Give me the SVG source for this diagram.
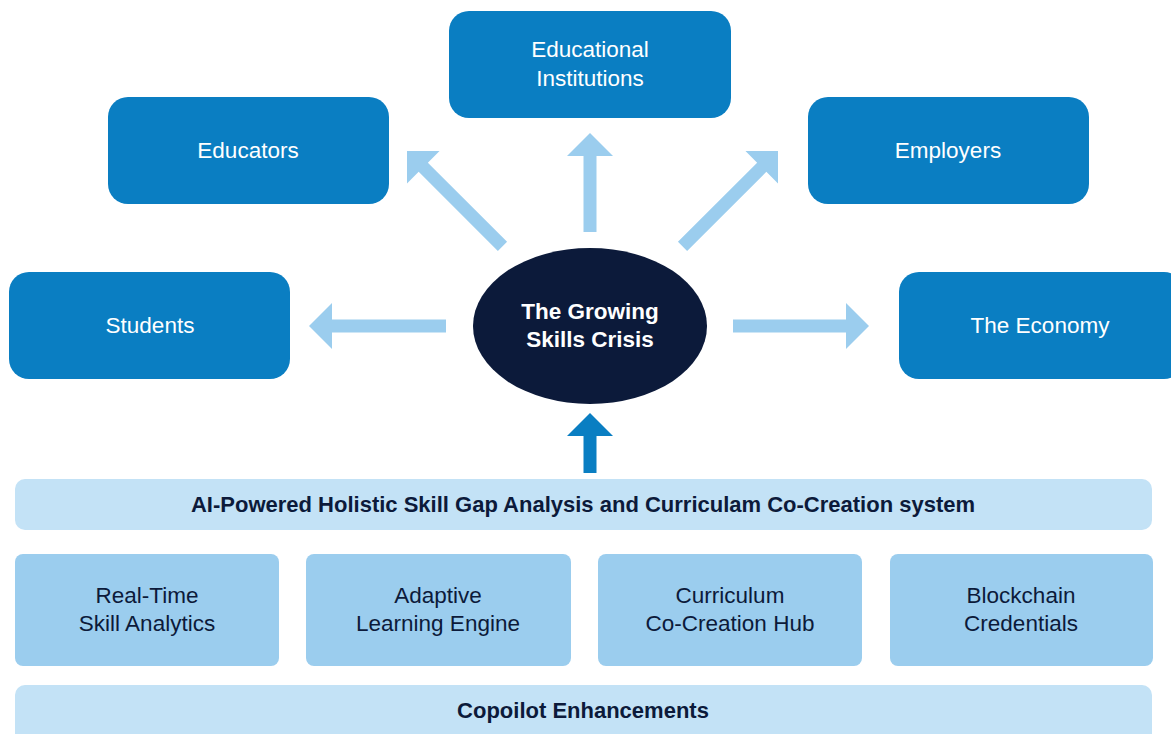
<svg xmlns="http://www.w3.org/2000/svg" width="1171" height="734" viewBox="0 0 1171 734">
<defs>
<style>
.top{fill:#0A7EC2}
.tt{font-family:"Liberation Sans",Arial,sans-serif;font-size:22.5px;fill:#FFFFFF;text-anchor:middle}
.ct{font-family:"Liberation Sans",Arial,sans-serif;font-size:22.5px;font-weight:bold;fill:#FFFFFF;text-anchor:middle}
.bar{fill:#C3E2F6}
.box{fill:#9BCDEE}
.bt{font-family:"Liberation Sans",Arial,sans-serif;font-size:22.5px;fill:#0C1A3A;text-anchor:middle}
.bb{font-family:"Liberation Sans",Arial,sans-serif;font-size:22px;font-weight:bold;fill:#0C1A3A;text-anchor:middle}
.arr{fill:#9BCDEE}
.arrd{fill:#0A7EC2}
</style>
</defs>
<rect width="1171" height="734" fill="#FFFFFF"/>
<g id="connectors">
<path class="arr" d="M0,0 L23,23 L6.5,23 L6.5,99 L-6.5,99 L-6.5,23 L-23,23Z" transform="translate(590,133)"/>
<path class="arr" d="M0,0 L23,23 L6.5,23 L6.5,135 L-6.5,135 L-6.5,23 L-23,23Z" transform="translate(407,151) rotate(-45)"/>
<path class="arr" d="M0,0 L23,23 L6.5,23 L6.5,135 L-6.5,135 L-6.5,23 L-23,23Z" transform="translate(778,151) rotate(45)"/>
<path class="arr" d="M0,0 L23,23 L6.5,23 L6.5,137 L-6.5,137 L-6.5,23 L-23,23Z" transform="translate(309,326) rotate(-90)"/>
<path class="arr" d="M0,0 L23,23 L6.5,23 L6.5,136 L-6.5,136 L-6.5,23 L-23,23Z" transform="translate(869,326) rotate(90)"/>
<path class="arrd" d="M0,0 L23,23 L6.5,23 L6.5,60 L-6.5,60 L-6.5,23 L-23,23Z" transform="translate(590,413)"/>
</g>
<g id="educational-institutions">
<rect class="top" x="449" y="11" width="282" height="107" rx="20"/>
<text class="tt" x="590" y="57">Educational</text>
<text class="tt" x="590" y="86">Institutions</text>
</g>
<g id="educators">
<rect class="top" x="108" y="97" width="281" height="107" rx="20"/>
<text class="tt" x="248" y="158">Educators</text>
</g>
<g id="employers">
<rect class="top" x="808" y="97" width="281" height="107" rx="20"/>
<text class="tt" x="948" y="158">Employers</text>
</g>
<g id="students">
<rect class="top" x="9" y="272" width="281" height="107" rx="20"/>
<text class="tt" x="150" y="333">Students</text>
</g>
<g id="the-economy">
<rect class="top" x="899" y="272" width="285" height="107" rx="20"/>
<text class="tt" x="1040" y="333">The Economy</text>
</g>
<g id="crisis">
<ellipse cx="590" cy="326" rx="117" ry="78" fill="#0C1A3A"/>
<text class="ct" x="590" y="319">The Growing</text>
<text class="ct" x="590" y="347">Skills Crisis</text>
</g>
<g id="system-bar">
<rect class="bar" x="15" y="479" width="1137" height="51" rx="10"/>
<text class="bb" x="583" y="512">AI-Powered Holistic Skill Gap Analysis and Curriculam Co-Creation system</text>
</g>
<g id="real-time">
<rect class="box" x="15" y="554" width="264" height="112" rx="8"/>
<text class="bt" x="147" y="603">Real-Time</text>
<text class="bt" x="147" y="631">Skill Analytics</text>
</g>
<g id="adaptive">
<rect class="box" x="306" y="554" width="265" height="112" rx="8"/>
<text class="bt" x="438" y="603">Adaptive</text>
<text class="bt" x="438" y="631">Learning Engine</text>
</g>
<g id="curriculum">
<rect class="box" x="598" y="554" width="264" height="112" rx="8"/>
<text class="bt" x="730" y="603">Curriculum</text>
<text class="bt" x="730" y="631">Co-Creation Hub</text>
</g>
<g id="blockchain">
<rect class="box" x="890" y="554" width="263" height="112" rx="8"/>
<text class="bt" x="1021" y="603">Blockchain</text>
<text class="bt" x="1021" y="631">Credentials</text>
</g>
<g id="copilot-bar">
<rect class="bar" x="15" y="685" width="1137" height="60" rx="10"/>
<text class="bb" x="583" y="718">Copoilot Enhancements</text>
</g>
</svg>
